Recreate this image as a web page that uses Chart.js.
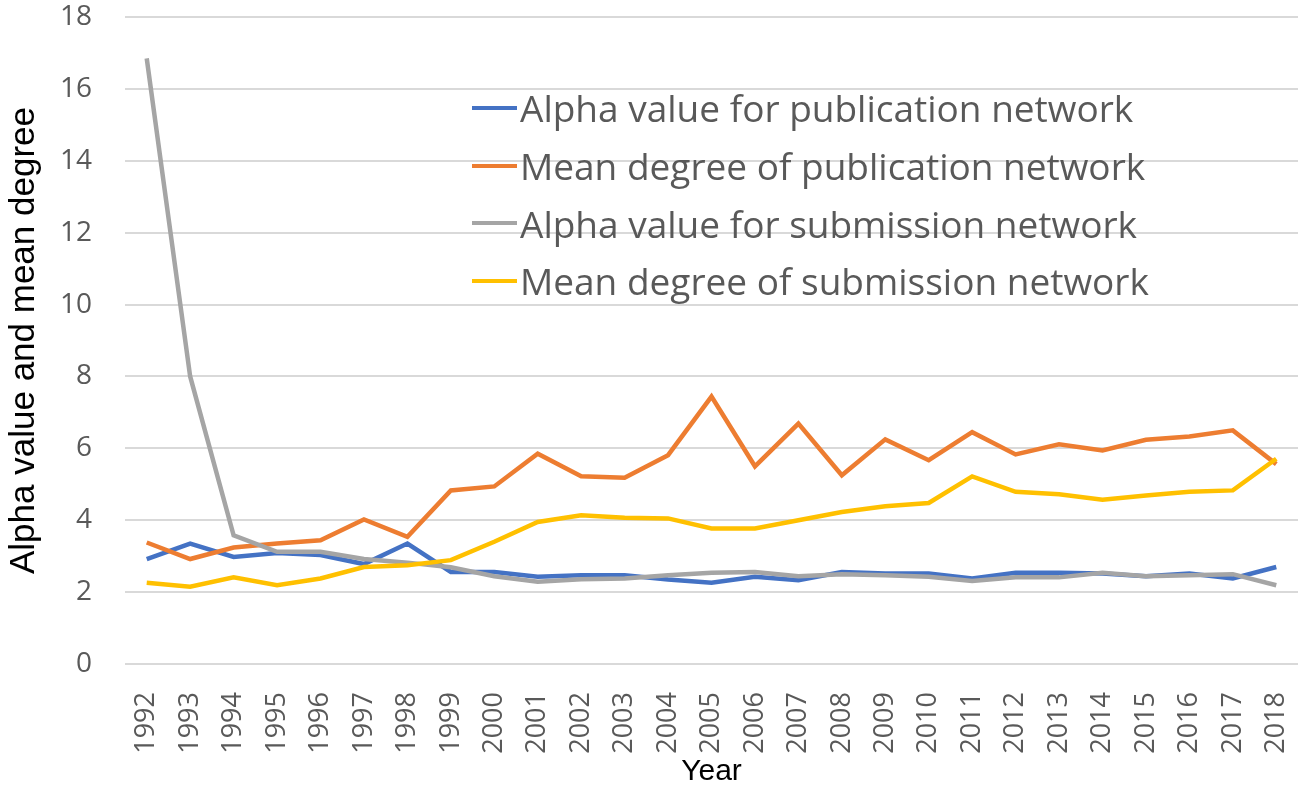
<!DOCTYPE html>
<html>
<head>
<meta charset="utf-8">
<script src="https://cdn.jsdelivr.net/npm/chart.js@4.4.1/dist/chart.umd.min.js"></script>
<style>
    body { margin: 0; background: #fff; }
    #wrap { position: relative; width: 1303px; height: 790px; }
    #legend { position: absolute; left: 472px; top: 79px; font-family: 'Open Sans', sans-serif; font-size: 37px; color: #595959; }
    .row { height: 57.7px; display: flex; align-items: center; white-space: nowrap; }
    .swatch { width: 45px; height: 4px; margin-right: 3px; }
</style>
</head>
<body>
<div id="wrap">
    <canvas id="chart" width="1303" height="790"></canvas>
    <div id="legend"></div>
</div>
<script>
// Categories
const years = ['1992', '1993', '1994', '1995', '1996', '1997', '1998', '1999', '2000', '2001',
    '2002', '2003', '2004', '2005', '2006', '2007', '2008', '2009', '2010', '2011',
    '2012', '2013', '2014', '2015', '2016', '2017', '2018'];

// Series values
const alphaPublication = [2.92, 3.35, 2.98, 3.09, 3.03, 2.78, 3.35, 2.56, 2.56, 2.43,
    2.47, 2.47, 2.35, 2.26, 2.43, 2.33, 2.56, 2.52, 2.52, 2.38,
    2.54, 2.54, 2.52, 2.44, 2.52, 2.38, 2.70];
const meanPublication = [3.38, 2.92, 3.24, 3.35, 3.44, 4.02, 3.54, 4.83, 4.94, 5.85,
    5.22, 5.18, 5.81, 7.44, 5.50, 6.69, 5.25, 6.25, 5.67, 6.45,
    5.83, 6.11, 5.94, 6.24, 6.33, 6.50, 5.56];
const alphaSubmission = [16.85, 8.0, 3.58, 3.12, 3.12, 2.92, 2.82, 2.69, 2.44, 2.29,
    2.36, 2.38, 2.47, 2.54, 2.56, 2.44, 2.50, 2.47, 2.43, 2.31,
    2.41, 2.41, 2.54, 2.44, 2.47, 2.50, 2.19];
const meanSubmission = [2.26, 2.15, 2.41, 2.19, 2.38, 2.70, 2.75, 2.89, 3.40, 3.95,
    4.14, 4.07, 4.05, 3.77, 3.77, 4.00, 4.23, 4.39, 4.48, 5.22,
    4.79, 4.72, 4.57, 4.69, 4.79, 4.83, 5.71];

const seriesNames = ['Alpha value for publication network', 'Mean degree of publication network',
    'Alpha value for submission network', 'Mean degree of submission network'];
const seriesColors = ['#4472C4', '#ED7D31', '#A5A5A5', '#FFC000'];
const seriesData = [alphaPublication, meanPublication, alphaSubmission, meanSubmission];

// Y ticks
const yMin = 0;
const yMax = 18;
const yStep = 2;

const datasets = seriesData.map((data, i) => ({
    label: seriesNames[i],
    data: data,
    borderColor: seriesColors[i],
    backgroundColor: seriesColors[i],
    borderWidth: 4.5,
    pointRadius: 0,
    tension: 0,
    order: 4 - i
}));

new Chart(document.getElementById('chart'), {
    type: 'line',
    data: { labels: years, datasets: datasets },
    options: {
        responsive: false,
        animation: false,
        layout: { padding: { top: 17, right: 5, left: 0, bottom: 0 } },
        plugins: { legend: { display: false }, tooltip: { enabled: false } },
        scales: {
            x: {
                offset: true,
                grid: { display: false },
                border: { display: false },
                ticks: {
                    minRotation: 90,
                    maxRotation: 90,
                    padding: 20,
                    color: '#595959',
                    font: { family: 'Open Sans', size: 27 }
                },
                title: {
                    display: true,
                    text: 'Year',
                    color: '#000',
                    font: { family: 'Liberation Sans', size: 30 },
                    padding: { top: 0, bottom: 0 }
                },
                afterFit: function(scale) {
                    scale.height = 126;
                    scale.paddingLeft = 0;
                    scale.paddingRight = 0;
                }
            },
            y: {
                min: yMin,
                max: yMax,
                grid: { color: '#d9d9d9', lineWidth: 2, drawTicks: false },
                border: { display: false },
                ticks: {
                    stepSize: yStep,
                    padding: 33,
                    color: '#595959',
                    font: { family: 'Open Sans', size: 28 }
                },
                title: {
                    display: true,
                    text: 'Alpha value and mean degree',
                    color: '#000',
                    font: { family: 'Liberation Sans', size: 35 },
                    padding: { top: 3, bottom: 0 }
                },
                afterFit: function(scale) {
                    scale.width = 125;
                    scale.paddingTop = 0;
                    scale.paddingBottom = 0;
                }
            }
        }
    }
});

// Legend drawn as html over the plot
const legend = document.getElementById('legend');
seriesNames.forEach((name, i) => {
    const row = document.createElement('div');
    row.className = 'row';
    row.innerHTML = `<span class="swatch" style="background:${seriesColors[i]}"></span><span>${name}</span>`;
    legend.appendChild(row);
});
</script>
</body>
</html>
